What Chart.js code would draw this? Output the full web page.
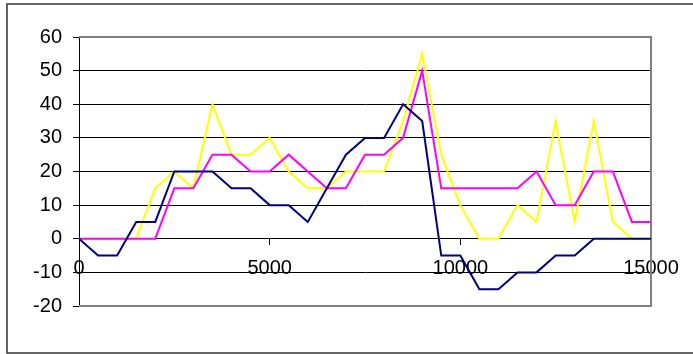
<!DOCTYPE html>
<html>
<head>
<meta charset="utf-8">
<script src="https://cdn.jsdelivr.net/npm/chart.js@4"></script>
<style>
  html, body { margin: 0; padding: 0; background: #fff; }
  #wrap { width: 693px; height: 354px; position: relative; }
</style>
</head>
<body>
<div id="wrap"><canvas id="lineChart"></canvas></div>
<script>
// x positions of the samples
const xValues = [0, 500, 1000, 1500, 2000, 2500, 3000, 3500, 4000, 4500, 5000,
                 5500, 6000, 6500, 7000, 7500, 8000, 8500, 9000, 9500, 10000,
                 10500, 11000, 11500, 12000, 12500, 13000, 13500, 14000, 14500, 15000];

// three series
const navySeries    = [0, -5, -5, 5, 5, 20, 20, 20, 15, 15, 10, 10, 5, 15, 25, 30, 30, 40, 35, -5, -5,
                       -15, -15, -10, -10, -5, -5, 0, 0, 0, 0];
const magentaSeries = [0, 0, 0, 0, 0, 15, 15, 25, 25, 20, 20, 25, 20, 15, 15, 25, 25, 30, 50, 15, 15,
                       15, 15, 15, 20, 10, 10, 20, 20, 5, 5];
const yellowSeries  = [0, 0, 0, 0, 15, 20, 15, 40, 25, 25, 30, 20, 15, 15, 20, 20, 20, 35, 55, 25, 10,
                       0, 0, 10, 5, 35, 5, 35, 5, 0, 0];

const toPoints = ys => ys.map((y, i) => ({ x: xValues[i], y: y }));

// grey plot frame + dark outer frame
const framePlugin = {
    id: "frames",
    beforeDraw(chart) {
        const c = chart.ctx;
        c.save();
        c.fillStyle = "#fff";
        c.fillRect(0, 0, chart.width, chart.height);
        c.strokeStyle = "#333";
        c.lineWidth = 1.5;
        c.strokeRect(7, 4, 720, 349);
        c.restore();
    },
    beforeDatasetsDraw(chart) {
        const a = chart.chartArea;
        const c = chart.ctx;
        c.save();
        c.strokeStyle = "#808080";
        c.lineWidth = 2;
        c.beginPath();
        c.moveTo(a.left, a.top);
        c.lineTo(a.right, a.top);
        c.lineTo(a.right, a.bottom);
        c.lineTo(a.left, a.bottom);
        c.stroke();
        c.restore();
    }
};

const tickFont = { family: "'Liberation Sans', Arial, sans-serif", size: 20 };

const ctx = document.getElementById("lineChart").getContext("2d");
new Chart(ctx, {
    type: "line",
    data: {
        datasets: [
            { label: "navy", data: toPoints(navySeries), borderColor: "#000080", borderWidth: 2, pointRadius: 0, fill: false },
            { label: "magenta", data: toPoints(magentaSeries), borderColor: "#FF00FF", borderWidth: 2, pointRadius: 0, fill: false },
            { label: "yellow", data: toPoints(yellowSeries), borderColor: "#FFFF00", borderWidth: 2, pointRadius: 0, fill: false }
        ]
    },
    options: {
        responsive: true,
        maintainAspectRatio: false,
        animation: false,
        layout: { padding: { left: 0, top: 37, right: 42, bottom: 48 } },
        plugins: { legend: { display: false }, tooltip: { enabled: false } },
        scales: {
            x: {
                type: "linear",
                position: { y: 0 },
                min: 0,
                max: 15000,
                ticks: {
                    stepSize: 5000,
                    color: "#000",
                    padding: 12,
                    maxRotation: 0,
                    font: tickFont,
                    callback: v => String(v)
                },
                grid: { drawOnChartArea: false, drawTicks: true, tickLength: 6, tickColor: "#000" },
                border: { color: "#000", width: 1 }
            },
            y: {
                min: -20,
                max: 60,
                afterFit: s => { s.width = 79; },
                ticks: {
                    stepSize: 10,
                    color: "#000",
                    padding: 11,
                    font: tickFont,
                    callback: v => String(v)
                },
                grid: {
                    color: c => (c.tick && (c.tick.value === 60 || c.tick.value === -20)) ? "#808080" : "#000",
                    lineWidth: 1,
                    tickLength: 6,
                    tickColor: "#000"
                },
                border: { color: "#000", width: 1 }
            }
        }
    },
    plugins: [framePlugin]
});
</script>
</body>
</html>
